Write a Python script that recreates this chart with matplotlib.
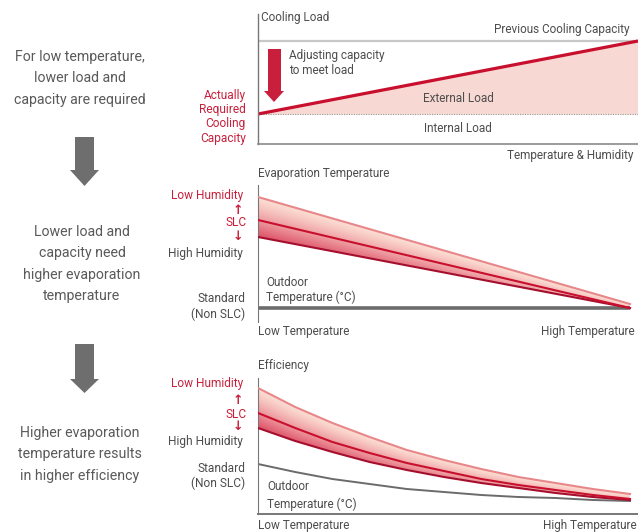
import numpy as np
import matplotlib
matplotlib.use("Agg")
import matplotlib.pyplot as plt
from matplotlib.patches import Polygon
from matplotlib.colors import to_rgb

plt.rcParams['font.family'] = ['Roboto', 'DejaVu Sans']

W, H = 638, 532

# ---- data ----
# cooling load panel, x = temperature & humidity (0..1)
load_x = [0.0, 1.0]
prev_capacity = [103, 103]
internal_load = [30, 30]
actual_capacity = [30, 103]

# evaporation temperature panel
evap_x = [0.0, 1.0]
evap_low_hum = [125, 18]
evap_slc = [102, 14]
evap_high_hum = [85, 14]
evap_standard = [14, 14]

# efficiency panel
eff_x = [0.0, 0.1, 0.2, 0.3, 0.4, 0.5, 0.6, 0.7, 0.8, 0.9, 1.0]
eff_low_hum = [126, 107, 91, 77, 64, 54, 45, 37, 31, 25, 20]
eff_slc = [101, 86, 72, 61, 51, 43, 35, 29, 24, 19, 15]
eff_high_hum = [86, 73, 62, 52, 44, 37, 31, 26, 21, 17, 14]
eff_standard = [50, 42, 35, 30, 25, 22, 19, 17, 16, 14, 13]

left_texts = [
    ["For low temperature,", "lower load and", "capacity are required"],
    ["Lower load and", "capacity need", "higher evaporation", "temperature"],
    ["Higher evaporation", "temperature results", "in higher efficiency"],
]

RED = "#c8203c"
TXT = "#4d4d4d"
GREY_TXT = "#5a5a5a"
LIGHT = "#e8878a"
MID = "#c8102e"
DARK = "#a50f2d"
STD = "#6b6b6b"
FS = 8.5

fig = plt.figure(figsize=(W / 100, H / 100), dpi=100)


def fx(x):
    return x / W


def fy(y):
    return 1 - y / H


def ftext(x, y, s, **kw):
    kw.setdefault('color', TXT)
    kw.setdefault('fontsize', FS)
    kw.setdefault('va', 'center')
    fig.text(fx(x), fy(y), s, **kw)


def add_axes(x0, x1, y0, y1):
    ax = fig.add_axes([fx(x0), fy(y1), (x1 - x0) / W, (y1 - y0) / H])
    ax.set_xticks([])
    ax.set_yticks([])
    for sp in ax.spines.values():
        sp.set_visible(False)
    return ax


def band(ax, x, lo, mid, hi, xmax, ymax):
    # gradient fill between the high humidity and low humidity curves
    gx = np.linspace(0, xmax, 400)
    gy = np.linspace(0, ymax, 300)
    X, Y = np.meshgrid(gx, gy)
    lo_i = np.interp(X, x, lo)
    hi_i = np.interp(X, x, hi)
    s = np.clip((Y - lo_i) / np.maximum(hi_i - lo_i, 1e-6), 0, 1)
    t = np.clip(X / max(x), 0, 1)
    w = (0.04 + 0.92 * (1 - s) ** 1.3) * (1 - 0.7 * t)
    c0 = np.array(to_rgb("#fde3d7"))
    c1 = np.array(to_rgb("#dc4a62"))
    img = c0 + (c1 - c0) * w[..., None]
    im = ax.imshow(img, extent=[0, xmax, 0, ymax], origin='lower', aspect='auto', zorder=1)
    poly = ax.fill_between(x, lo, hi, facecolor='none', edgecolor='none')
    im.set_clip_path(poly.get_paths()[0], transform=ax.transData)
    ax.set_xlim(0, xmax)
    ax.set_ylim(0, ymax)


xmax = 380 / 372

# ---- panel 1: cooling load ----
ax1 = add_axes(258, 638, 14, 144)
ax1.set_xlim(0, 1)
ax1.set_ylim(0, 130)
ax1.spines['left'].set_visible(True)
ax1.spines['bottom'].set_visible(True)
ax1.spines['left'].set_color("#777777")
ax1.spines['bottom'].set_color("#8a8a8a")
ax1.spines['left'].set_linewidth(1.0)
ax1.spines['bottom'].set_linewidth(1.2)
ax1.plot([0, 1], prev_capacity, color="#c8c8c8", lw=1.6)
ax1.fill_between(load_x, internal_load, actual_capacity, color="#f8d8d3", lw=0)
ax1.plot(load_x, internal_load, color="#999999", lw=0.8, ls=(0, (1, 1.2)))
ax1.plot(load_x, actual_capacity, color=MID, lw=2.3, solid_capstyle='butt')

ftext(261, 17, "Cooling Load")
ftext(629, 29, "Previous Cooling Capacity", ha='right')
ftext(289, 56, "Adjusting capacity")
ftext(289, 71, "to meet load")
ftext(458, 99, "External Load", ha='center')
ftext(458, 129, "Internal Load", ha='center')
ftext(633, 156, "Temperature & Humidity", ha='right')

arrow = [(268, 49), (281, 49), (281, 91), (284, 91), (274, 102), (264, 91), (268, 91)]
fig.add_artist(Polygon([(fx(a), fy(b)) for a, b in arrow], closed=True,
                       transform=fig.transFigure, color=RED, lw=0))

for i, s in enumerate(["Actually", "Required", "Cooling", "Capacity"]):
    ftext(246, 95 + i * 14.5, s, ha='right', color=RED, fontsize=8.6)

# ---- panel 2: evaporation temperature ----
ax2 = add_axes(258, 638, 185, 322)
ax2.spines['left'].set_visible(True)
ax2.spines['left'].set_color("#777777")
band(ax2, evap_x, evap_high_hum, evap_slc, evap_low_hum, xmax, 137)
ax2.plot(evap_x, evap_standard, color=STD, lw=2.6, solid_capstyle='butt', zorder=2)
ax2.plot(evap_x, evap_low_hum, color=LIGHT, lw=1.5, zorder=3)
ax2.plot(evap_x, evap_high_hum, color=DARK, lw=1.5, zorder=3)
ax2.plot(evap_x, evap_slc, color=MID, lw=1.5, zorder=4)

ftext(258, 173, "Evaporation Temperature")
ftext(266, 282, "Outdoor")
ftext(266, 297, "Temperature (°C)")
ftext(258, 332, "Low Temperature")
ftext(635, 332, "High Temperature", ha='right')

# ---- panel 3: efficiency ----
ax3 = add_axes(258, 638, 378, 514)
ax3.spines['left'].set_visible(True)
ax3.spines['bottom'].set_visible(True)
ax3.spines['left'].set_color("#777777")
ax3.spines['bottom'].set_color("#777777")
ax3.spines['bottom'].set_linewidth(1.4)
band(ax3, eff_x, eff_high_hum, eff_slc, eff_low_hum, xmax, 136)
ax3.plot(eff_x, eff_standard, color=STD, lw=1.4, zorder=2)
ax3.plot(eff_x, eff_low_hum, color=LIGHT, lw=1.5, zorder=3)
ax3.plot(eff_x, eff_high_hum, color=DARK, lw=1.5, zorder=3)
ax3.plot(eff_x, eff_slc, color=MID, lw=1.5, zorder=4)

ftext(258, 366, "Efficiency")
ftext(267, 487, "Outdoor")
ftext(267, 504, "Temperature (°C)")
ftext(258, 525, "Low Temperature")
ftext(637, 525, "High Temperature", ha='right')

# side labels for panels 2 and 3
for ys in [(196, 210, 223, 237, 253, 299, 314), (384, 400, 415, 427, 442, 468, 483)]:
    ftext(243, ys[0], "Low Humidity", ha='right', color=RED, fontsize=8.6)
    ftext(238, ys[1], "↑", ha='center', color=RED, fontsize=9, fontweight='bold')
    ftext(247, ys[2], "SLC", ha='right', color=RED, fontsize=8.6)
    ftext(238, ys[3], "↓", ha='center', color=RED, fontsize=9, fontweight='bold')
    ftext(243, ys[4], "High Humidity", ha='right', fontsize=8.6)
    ftext(245, ys[5], "Standard", ha='right', fontsize=8.6)
    ftext(245, ys[6], "(Non SLC)", ha='right', fontsize=8.6)

# ---- left column ----
for lines, (xc, y0) in zip(left_texts, [(80, 57), (82, 232), (80, 433)]):
    for i, s in enumerate(lines):
        ftext(xc, y0 + i * 21.3, s, ha='center', color=GREY_TXT, fontsize=10.2)

for top, head, bottom in [(137, 170, 186), (344, 379, 393)]:
    pts = [(75, top), (94, top), (94, head), (99, head), (84.5, bottom), (70, head), (75, head)]
    fig.add_artist(Polygon([(fx(a), fy(b)) for a, b in pts], closed=True,
                           transform=fig.transFigure, color="#6e6e6e", lw=0))

fig.savefig("out.png", dpi=100)
